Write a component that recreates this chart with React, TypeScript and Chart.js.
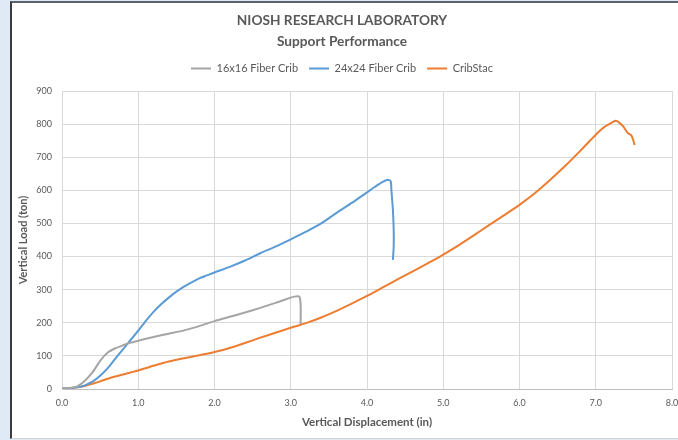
import React, { useEffect, useRef } from "react";
import { Chart, registerables } from "chart.js";

Chart.register(...registerables);

const titleLines = ["NIOSH RESEARCH LABORATORY", "Support Performance"];
const seriesNames = ["16x16 Fiber Crib", "24x24 Fiber Crib", "CribStac"];
const seriesColors = ["#a5a5a5", "#5b9bd5", "#ed7d31"];
const xAxisTitle = "Vertical Displacement (in)";
const yAxisTitle = "Vertical Load (ton)";

const crib16Disp = [0, 0.1, 0.2, 0.3, 0.4, 0.5, 0.6, 0.7, 0.8, 0.9, 1.0, 1.2, 1.4, 1.6, 1.8, 2.0, 2.2, 2.4, 2.6, 2.8, 2.9, 3.0, 3.05, 3.1, 3.12, 3.13, 3.13, 3.13];
const crib16Load = [2, 3, 8, 25, 50, 85, 110, 123, 132, 140, 146, 157, 167, 177, 190, 205, 218, 231, 245, 260, 268, 276, 279, 280, 276, 250, 215, 196];

const crib24Disp = [0, 0.1, 0.2, 0.3, 0.4, 0.5, 0.6, 0.7, 0.8, 0.9, 1.0, 1.1, 1.2, 1.3, 1.4, 1.5, 1.6, 1.7, 1.8, 1.9, 2.0, 2.2, 2.4, 2.6, 2.8, 3.0, 3.2, 3.4, 3.6, 3.8, 4.0, 4.1, 4.2, 4.27, 4.31, 4.32, 4.34, 4.35, 4.35, 4.34];
const crib24Load = [2, 3, 5, 11, 22, 40, 63, 92, 120, 148, 176, 206, 233, 256, 276, 294, 309, 322, 334, 343, 352, 369, 388, 410, 430, 452, 475, 500, 532, 562, 594, 610, 625, 632, 628, 600, 540, 480, 430, 390];

const cribStacDisp = [0, 0.1, 0.2, 0.3, 0.4, 0.5, 0.6, 0.7, 0.8, 0.9, 1.0, 1.2, 1.4, 1.6, 1.8, 2.0, 2.2, 2.4, 2.6, 2.8, 3.0, 3.2, 3.4, 3.6, 3.8, 4.0, 4.2, 4.4, 4.6, 4.8, 5.0, 5.2, 5.4, 5.6, 5.8, 6.0, 6.2, 6.4, 6.6, 6.8, 7.0, 7.1, 7.2, 7.26, 7.3, 7.36, 7.42, 7.47, 7.51];
const cribStacLoad = [0, 2, 5, 9, 16, 23, 31, 38, 44, 50, 56, 70, 83, 93, 102, 112, 124, 139, 155, 170, 185, 199, 216, 236, 258, 281, 306, 331, 355, 380, 406, 434, 464, 495, 525, 556, 591, 631, 674, 720, 768, 789, 803, 810, 806, 793, 773, 765, 737];

const xMin = 0, xMax = 8, xStep = 1;
const yMin = 0, yMax = 900, yStep = 100;

const FONT = "Lato";
const TEXT = "#595959";
const GRID = "#d9d9d9";

function pairs(xs: number[], ys: number[]) {
  return xs.map((x, i) => ({ x, y: ys[i] }));
}

export default function App() {
  const ref = useRef<HTMLCanvasElement | null>(null);
  useEffect(() => {
    if (!ref.current) return;
    const series = [
      pairs(crib16Disp, crib16Load),
      pairs(crib24Disp, crib24Load),
      pairs(cribStacDisp, cribStacLoad),
    ];
    const chart = new Chart(ref.current, {
      type: "scatter",
      data: {
        datasets: series.map((d, i) => ({
          label: seriesNames[i],
          data: d,
          showLine: true,
          borderColor: seriesColors[i],
          backgroundColor: seriesColors[i],
          borderWidth: 2,
          pointRadius: 0,
          pointHoverRadius: 0,
          tension: 0.25,
        })),
      },
      options: {
        animation: false,
        responsive: false,
        devicePixelRatio: 1,
        layout: { padding: { top: 0, left: 0, right: 6, bottom: 0 } },
        plugins: {
          title: {
            display: true,
            text: titleLines,
            color: TEXT,
            font: { family: FONT, size: 13.7, weight: "bold", lineHeight: "21px" },
            padding: { top: 7, bottom: 0 },
          },
          subtitle: {
            display: true,
            text: "",
            weight: 500,
            font: { family: FONT, size: 1, lineHeight: "7px" },
            padding: 0,
          } as any,
          legend: {
            display: true,
            labels: {
              usePointStyle: true,
              pointStyle: "line",
              pointStyleWidth: 20,
              color: TEXT,
              padding: 11,
              font: { family: FONT, size: 11 },
            },
          },
          tooltip: { enabled: false },
        },
        scales: {
          x: {
            type: "linear",
            min: xMin,
            max: xMax,
            border: { color: "#bfbfbf", width: 1 },
            grid: { color: GRID, drawTicks: false },
            ticks: {
              stepSize: xStep,
              color: TEXT,
              padding: 9,
              maxRotation: 0,
              font: { family: FONT, size: 9 },
              callback: (v: any) => Number(v).toFixed(1),
            },
            title: {
              display: true,
              text: xAxisTitle,
              color: TEXT,
              font: { family: FONT, size: 11.5, weight: "bold" },
              padding: { top: 0, bottom: 8 },
            },
            afterFit: (s: any) => {
              s.height = 48;
              s.paddingLeft = 0;
              s.paddingRight = 0;
            },
          },
          y: {
            type: "linear",
            min: yMin,
            max: yMax,
            border: { color: GRID, width: 1 },
            grid: { color: GRID, drawTicks: false },
            ticks: {
              stepSize: yStep,
              color: TEXT,
              padding: 10,
              font: { family: FONT, size: 9 },
            },
            title: {
              display: true,
              text: yAxisTitle,
              color: TEXT,
              font: { family: FONT, size: 11, weight: "bold" },
              padding: { top: 5, bottom: 0 },
            },
            afterFit: (s: any) => {
              s.width = 50;
              s.paddingTop = 0;
              s.paddingBottom = 0;
            },
          },
        },
      },
    } as any);
    return () => chart.destroy();
  }, []);

  return (
    <div style={{ position: "fixed", left: 0, top: 0, width: 678, height: 440, background: "#dfeaf6", overflow: "hidden" }}>
      <div
        style={{
          position: "absolute",
          left: 10,
          top: 1,
          width: 680,
          height: 438,
          background: "#ffffff",
          borderLeft: "2px solid #3c3c3c",
          borderTop: "2px solid #5a6270",
          borderBottom: "1px solid #d4d4d4",
          boxSizing: "border-box",
        }}
      >
        <canvas ref={ref} width={666} height={434} style={{ position: "absolute", left: 0, top: 0, width: 666, height: 434 }} />
      </div>
    </div>
  );
}
